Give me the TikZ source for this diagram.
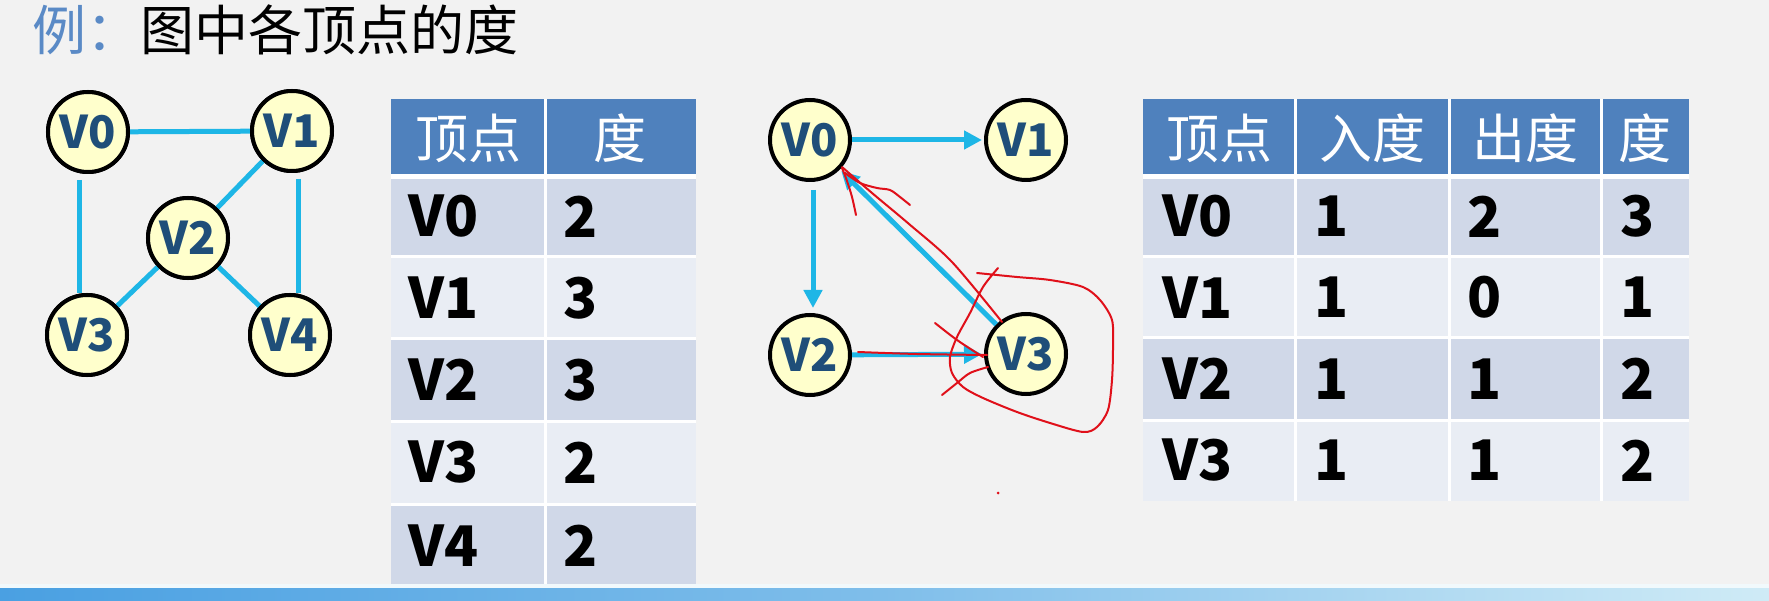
\documentclass[tikz,border=0pt]{standalone}
\usepackage{fontspec}
\newfontfamily\cjk{Noto Sans CJK SC}
\usetikzlibrary{arrows.meta,calc}
\definecolor{bg}{HTML}{F2F2F2}
\definecolor{edgec}{HTML}{1EB6E6}
\definecolor{vfill}{HTML}{FFFFCC}
\definecolor{vtext}{HTML}{1F4E79}
\definecolor{hdr}{HTML}{4F81BD}
\definecolor{rowA}{HTML}{D0D8E8}
\definecolor{rowB}{HTML}{E9EDF4}
\definecolor{titleblue}{HTML}{5A8AC6}
\definecolor{barL}{HTML}{4AA0E2}
\definecolor{barR}{HTML}{CFEBF6}
\definecolor{pen}{HTML}{E0101A}
\begin{document}
\begin{tikzpicture}[x=1pt,y=-1pt,
  vtx/.style={circle, draw=black, line width=4pt, fill=vfill, minimum size=80pt, inner sep=0pt,
    font=\cjk\bfseries\fontsize{45}{45}\selectfont, text=vtext},
  edge/.style={draw=edgec, line width=5pt},
  arr/.style={draw=edgec, line width=5pt, -{Triangle[length=18pt,width=18pt]}},
  hdrtxt/.style={anchor=center, text=white, inner sep=0pt, font=\cjk\fontsize{53}{53}\selectfont},
  celltxt/.style={anchor=west, text=black, inner sep=0pt, font=\cjk\bfseries\fontsize{56}{56}\selectfont},
  sep/.style={draw=white, line width=3pt},
  ink/.style={draw=pen, line width=2pt, line cap=round, line join=round}]
\useasboundingbox (0,0) rectangle (1769,601);
\fill[bg] (0,0) rectangle (1769,601);

% title
\node[anchor=west, inner sep=0pt, font=\cjk\fontsize{54}{54}\selectfont] (title) at (32,30)
  {\textcolor{titleblue}{例：}图中各顶点的度};

% ---------- left graph ----------
\node[vtx] (a0) at (88,132) {V0};
\node[vtx] (a1) at (292,131) {V1};
\node[vtx] (a2) at (188,238) {V2};
\node[vtx] (a3) at (87,335) {V3};
\node[vtx] (a4) at (290,335) {V4};
\draw[edge] (a0) -- (a1);
\draw[edge] ($(a0.south)+(-9,6)$) -- ($(a3.north)+(-8,0)$);
\draw[edge] ($(a1.south)+(6,6)$) -- ($(a4.north)+(8,0)$);
\draw[edge] (a1) -- (a2);
\draw[edge] (a2) -- (a3);
\draw[edge] (a2) -- (a4);
\node[vtx] at (a0) {V0};
\node[vtx] at (a1) {V1};
\node[vtx] at (a2) {V2};
\node[vtx] at (a3) {V3};
\node[vtx] at (a4) {V4};

% ---------- table 1 ----------
\fill[hdr] (391,99) rectangle (696,176);
\fill[rowA] (391,176) rectangle (696,257);
\fill[rowB] (391,257) rectangle (696,339);
\fill[rowA] (391,339) rectangle (696,421);
\fill[rowB] (391,421) rectangle (696,504);
\fill[rowA] (391,504) rectangle (696,588);
\draw[sep] (545,99) -- (545,588);
\draw[sep, line width=5pt] (391,177) -- (696,177);
\foreach \yy in {257,339,421,504} \draw[sep] (391,\yy) -- (696,\yy);
\node[hdrtxt] (h1a) at (468,138) {顶点};
\node[hdrtxt] (h1b) at (620,138) {度};
\foreach \yy/\v/\d [count=\k] in {216.5/V0/2, 298/V1/3, 380/V2/3, 462.5/V3/2, 546/V4/2} {
  \node[celltxt] (c1a\k) at (408,\yy) {\v};
  \node[celltxt] (c1b\k) at (563,\yy) {\d};
}

% ---------- right graph ----------
\node[vtx] (b0) at (810,140) {V0};
\node[vtx] (b1) at (1026,140) {V1};
\node[vtx] (b2) at (810,355) {V2};
\node[vtx] (b3) at (1026,354) {V3};
\draw[arr, shorten >=2pt] (b0) -- (b1);
\draw[arr, shorten <=8pt, shorten >=5pt] ($(b0.south)+(3,0)$) -- ($(b2.north)+(3,0)$);
\draw[arr, shorten >=2pt] (b2) -- (b3);
\draw[arr, shorten >=2pt] (b3) -- (b0);

% red handwriting
\draw[ink] plot[smooth] coordinates {(1002,322) (952,262) (909,224) (872,193) (842,167)};
\draw[ink] plot[smooth] coordinates {(842,168) (847,181) (852,197) (856,215)};
\draw[ink] plot[smooth] coordinates {(845,173) (860,183) (877,188) (890,190) (900,197) (910,205)};
\draw[ink] plot[smooth] coordinates {(858,352) (917,354) (987,355)};
\draw[ink] plot[smooth] coordinates {(988,367) (970,373) (957,383) (942,395)};
\draw[ink] plot[smooth] coordinates {(935,323) (957,340) (983,357)};
\draw[ink] plot[smooth] coordinates {(998,268) (983,287) (970,313) (957,337) (950,357) (952,373) (963,387) (983,398) (1017,412) (1050,423) (1083,432) (1097,427) (1108,410) (1112,380) (1113,347) (1112,320) (1100,300) (1083,287) (1050,280) (1017,277) (977,273)};
\fill[pen] (998,493) circle (1.5);

% ---------- table 2 ----------
\fill[hdr] (1143,99) rectangle (1689,176);
\fill[rowA] (1143,176) rectangle (1689,257);
\fill[rowB] (1143,257) rectangle (1689,338);
\fill[rowA] (1143,338) rectangle (1689,420);
\fill[rowB] (1143,420) rectangle (1689,501);
\foreach \xx in {1295,1449,1601} \draw[sep] (\xx,99) -- (\xx,501);
\draw[sep, line width=5pt] (1143,177) -- (1689,177);
\foreach \yy in {257,338,420} \draw[sep] (1143,\yy) -- (1689,\yy);
\node[hdrtxt] (h2a) at (1219,138) {顶点};
\node[hdrtxt] (h2b) at (1372,138) {入度};
\node[hdrtxt] (h2c) at (1525,138) {出度};
\node[hdrtxt] (h2d) at (1645,138) {度};
\foreach \yy/\v/\p/\q/\r [count=\k] in {216.5/V0/1/2/3, 297.5/V1/1/0/1, 379/V2/1/1/2, 460.5/V3/1/1/2} {
  \node[celltxt] (c2a\k) at (1162,\yy) {\v};
  \node[celltxt] (c2b\k) at (1314,\yy) {\p};
  \node[celltxt] (c2c\k) at (1467,\yy) {\q};
  \node[celltxt] (c2d\k) at (1620,\yy) {\r};
}

% ---------- bottom bar ----------
\fill[white!70!barR] (0,584) rectangle (1769,588);
\shade[left color=barL, right color=barR, middle color=barL!60!barR] (0,588) rectangle (1769,601);
\end{tikzpicture}
\end{document}
